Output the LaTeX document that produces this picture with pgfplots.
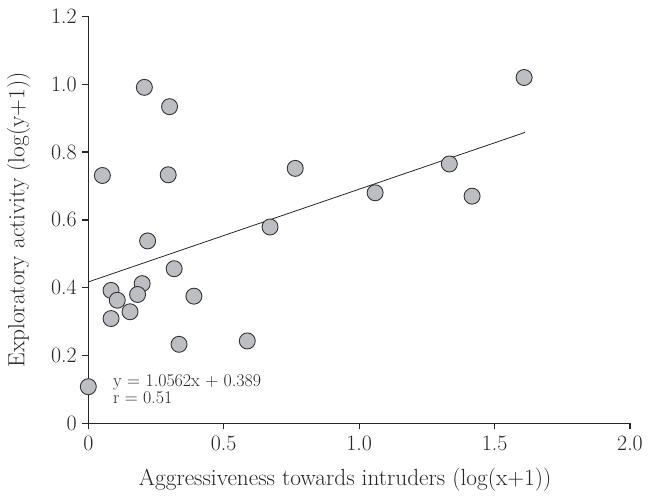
\documentclass[border=0pt]{standalone}
\usepackage{pgfplots}
\pgfplotsset{compat=1.18}
\definecolor{dotgray}{RGB}{189,190,194}
\begin{document}
\begin{tikzpicture}
\begin{axis}[
  scale only axis,
  width=541.7bp, height=406.8bp,
  xmin=0, xmax=2, ymin=0, ymax=1.2,
  axis x line=bottom, axis y line=left,
  axis line style={-, line width=1.4bp, black!85},
  tick align=outside, major tick length=6bp,
  tick style={line width=1.3bp, black!85},
  xtick={0,0.5,1,1.5,2}, xticklabels={0,0.5,1.0,1.5,2.0},
  ytick={0,0.2,0.4,0.6,0.8,1,1.2}, yticklabels={0,0.2,0.4,0.6,0.8,1.0,1.2},
  ticklabel style={font=\fontsize{22}{24}\selectfont, text=black!85},
  xticklabel style={yshift=-3.5bp},
  yticklabel style={xshift=-2bp},
  xlabel={Aggressiveness towards intruders (log(x+1))},
  ylabel={Exploratory activity (log(y+1))},
  label style={font=\fontsize{23.4}{26}\selectfont, text=black!85},
  xlabel style={at={(axis description cs:0.5,0)}, anchor=base, yshift=-62bp, xshift=-14bp},
  ylabel style={at={(axis description cs:0,0.5)}, anchor=base, yshift=64bp},
  clip=false,
]
\addplot[black!85, line width=0.8bp] coordinates {(0,0.417) (1.612,0.858)};
\addplot[only marks, mark=*, mark size=8bp,
  mark options={fill=dotgray, draw=black!80, line width=0.9bp}]
coordinates {
(0.207,0.991)(0.300,0.934)(0.052,0.731)(0.295,0.733)(0.764,0.752)
(0.671,0.579)(0.219,0.538)(0.317,0.456)(0.199,0.412)(0.084,0.392)
(0.107,0.363)(0.182,0.380)(0.390,0.375)(0.154,0.329)(0.084,0.309)
(0.335,0.233)(0.587,0.243)(0,0.108)(1.609,1.020)(1.333,0.765)
(1.059,0.680)(1.417,0.670)
};
\node[anchor=base west, font=\fontsize{18}{20}\selectfont, text=black!85, inner sep=0pt]
  at (axis cs:0.091,0.110) {y = 1.0562x + 0.389};
\node[anchor=base west, font=\fontsize{18}{20}\selectfont, text=black!85, inner sep=0pt]
  at (axis cs:0.091,0.059) {r = 0.51};
\end{axis}
\pgfresetboundingbox
\useasboundingbox (-88.3bp,-74bp) rectangle (560.7bp,423.3bp);
\end{tikzpicture}
\end{document}
